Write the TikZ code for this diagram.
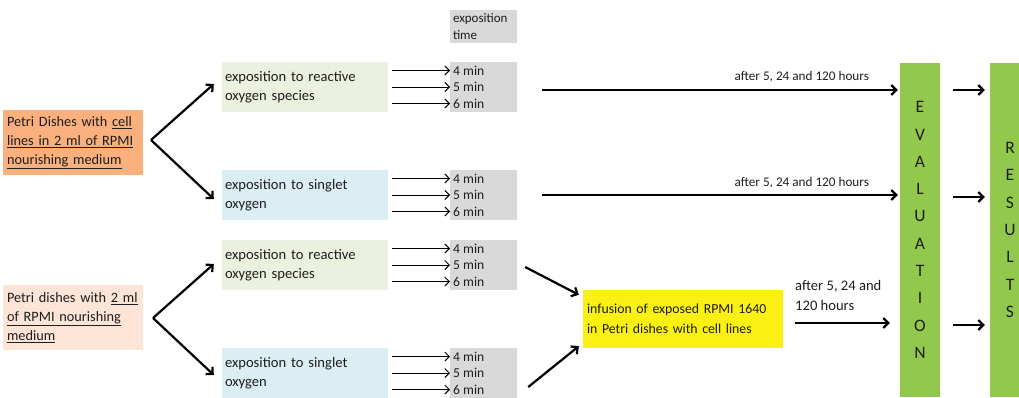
\documentclass[tikz,border=0pt]{standalone}
\usepackage{fontspec}
\setmainfont{Carlito}
\usetikzlibrary{arrows.meta}
\definecolor{orA}{RGB}{250,176,124}
\definecolor{orB}{RGB}{252,228,214}
\definecolor{grP}{RGB}{235,241,222}
\definecolor{blP}{RGB}{219,238,244}
\definecolor{gyB}{RGB}{217,217,217}
\definecolor{ylB}{RGB}{250,240,20}
\definecolor{grB}{RGB}{146,200,75}
\definecolor{txt}{RGB}{30,30,30}
\begin{document}
\begin{tikzpicture}[x=1pt,y=-1pt,
  every node/.style={text=txt},
  srcbox/.style={minimum width=140pt,minimum height=65pt,inner xsep=4pt,inner ysep=0pt,text width=132pt,align=left,font=\fontsize{14.3}{19}\selectfont},
  expbox/.style={minimum width=166pt,minimum height=50pt,inner xsep=3pt,inner ysep=0pt,text width=160pt,align=left,font=\fontsize{14.6}{19.5}\selectfont},
  graybox/.style={fill=gyB,minimum width=67pt,minimum height=50pt,inner sep=0pt},
  tlab/.style={anchor=west,inner sep=0pt,font=\fontsize{13.6}{14}\selectfont},
  hrs/.style={inner sep=0pt,font=\fontsize{13.2}{14}\selectfont},
  bar/.style={fill=grB,minimum width=40pt,minimum height=334pt,inner sep=0pt,align=center,font=\fontsize{17.5}{27.3}\selectfont},
  thinarr/.style={line width=1pt,-{Straight Barb[length=4.5pt,width=9pt]}},
  thickarr/.style={line width=2.2pt,-{Straight Barb[length=5pt,width=10pt]}}]
\useasboundingbox (0,0) rectangle (1019,397);

% sources
\node[srcbox,fill=orA] (s1) at (73,142.5) {\mbox{Petri Dishes with \underline{cell}}\\\mbox{\underline{lines in 2 ml of RPMI}}\\\mbox{\underline{nourishing medium}}};
\node[srcbox,fill=orB] (s2) at (73,317.5) {\mbox{Petri dishes with \underline{2 ml}}\\\mbox{\underline{of RPMI nourishing}}\\\mbox{\underline{medium}}};

% exposition boxes
\node[expbox,fill=grP] (g1) at (305,87) {exposition to reactive\\oxygen species};
\node[expbox,fill=blP] (g2) at (305,195) {exposition to singlet\\oxygen};
\node[expbox,fill=grP] (g3) at (305,265) {exposition to reactive\\oxygen species};
\node[expbox,fill=blP] (g4) at (305,373) {exposition to singlet\\oxygen};

% branching arrows
\coordinate (a1) at (151,140);
\coordinate (a2) at (153,318);
\draw[thickarr] (a1) -- ([xshift=-8pt,yshift=3pt]g1.west);
\draw[thickarr] (a1) -- ([xshift=-8pt,yshift=-4pt]g2.west);
\draw[thickarr] (a2) -- ([xshift=-8pt,yshift=1pt]g3.west);
\draw[thickarr] (a2) -- ([xshift=-8pt,yshift=-2pt]g4.west);

% exposition time header
\node[graybox,minimum height=33pt,inner xsep=3pt,text width=61pt,align=left,font=\fontsize{13}{17}\selectfont] (hdr) at (483.5,26.5) {exposition\\time};

% time boxes
\foreach \i/\c in {1/87,2/195,3/265,4/373}{
  \node[graybox] (m\i) at (483.5,\c) {};
  \foreach \k/\d/\t in {a/16.5/4,b/0/5,c/-16.5/6}{
    \node[tlab] (m\i\k) at ([xshift=-30.5pt,yshift=\d pt]m\i.center) {\t\ min};
    \draw[thinarr] (g\i.east |- m\i\k.west) ++(4,0) -- ([xshift=-3pt]m\i\k.west);
  }
}

% evaluation and results bars
\node[bar] (ev) at (920,230) {E\\V\\A\\L\\U\\A\\T\\I\\O\\N};
\node[bar] (res) at (1010,230) {R\\E\\S\\U\\L\\T\\S};

% yellow infusion box
\node[fill=ylB,minimum width=200pt,minimum height=58pt,inner xsep=4pt,text width=192pt,align=left,font=\fontsize{13.8}{20}\selectfont] (inf) at (683,319) {infusion of exposed RPMI 1640\\in Petri dishes with cell lines};
\draw[thickarr] ([xshift=8pt,yshift=-2pt]m3.east) -- ([xshift=-4pt,yshift=-5pt]inf.north west);
\draw[thickarr] ([xshift=11pt,yshift=-14pt]m4.east) -- ([xshift=-4pt,yshift=2pt]inf.south west);

% long arrows to evaluation
\draw[thickarr] ([xshift=25pt,yshift=-3pt]m1.east) -- ([xshift=-2pt]ev.west |- 0,90) node[hrs,pos=0.73,above=7pt] (h1) {after 5, 24 and 120 hours};
\draw[thickarr] ([xshift=25pt]m2.east) -- ([xshift=-2pt]ev.west |- 0,195) node[hrs,pos=0.73,above=6pt] (h2) {after 5, 24 and 120 hours};
\draw[thickarr] ([xshift=12pt,yshift=-4pt]inf.east) -- ([xshift=-10pt]ev.west |- 0,323);
\node[hrs,align=left,anchor=west,font=\fontsize{14.6}{20}\selectfont] (h3) at (795,295) {after 5, 24 and\\120 hours};

% evaluation to results
\foreach \y in {90,197,325}{
  \draw[thickarr] ([xshift=13pt]ev.east |- 0,\y) -- ([xshift=-5pt]res.west |- 0,\y);
}
\end{tikzpicture}
\end{document}
